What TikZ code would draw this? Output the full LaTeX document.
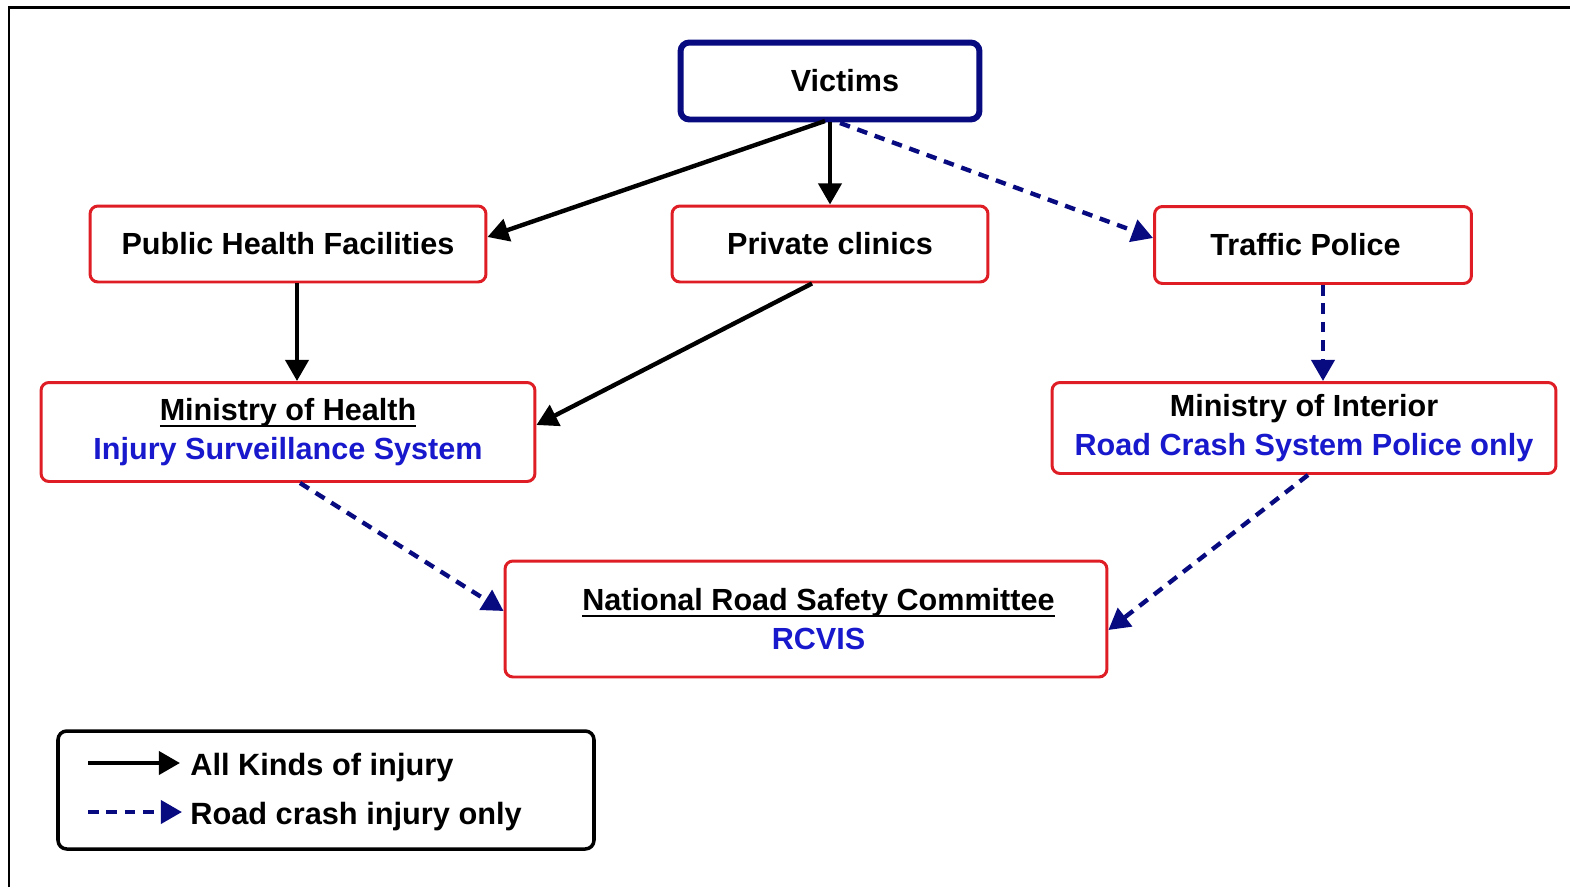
\documentclass[tikz,border=0pt]{standalone}
\usepackage{fontspec}
\setmainfont{Liberation Sans}
\usetikzlibrary{arrows.meta}
\definecolor{boxred}{RGB}{222,30,36}
\definecolor{navy}{RGB}{8,10,128}
\definecolor{txtblue}{RGB}{24,24,205}
\newcommand\thickul[1]{\setbox0=\hbox{#1}\rlap{\rule[-3.4pt]{\wd0}{1.2pt}}\box0}
\tikzset{
  unit/.style={draw=boxred, line width=1.7pt, rounded corners=4.5pt, fill=white,
    align=center, font=\fontsize{17.4}{21.8}\selectfont\bfseries, inner sep=0pt},
  victimbox/.style={unit, draw=navy, line width=3.4pt, rounded corners=5pt},
  legendbox/.style={draw=black, line width=2pt, rounded corners=5pt},
  allinj/.style={draw=black, line width=2.5pt, -{Triangle[length=12pt, width=13pt]}},
  roadinj/.style={draw=navy, line width=2.5pt, dash pattern=on 6pt off 4.5pt,
    -{Triangle[length=12pt, width=13pt]}},
  legendtext/.style={anchor=west, font=\fontsize{17.5}{20}\selectfont\bfseries, inner sep=0pt}
}
\begin{document}
\begin{tikzpicture}[x=0.02cm, y=-0.02cm]
\useasboundingbox (0,0) rectangle (1570,887);
% frame
\draw[line width=1.7pt] (9,887) -- (9,7) -- (1570,7);
% boxes
\node[victimbox, minimum width=5.98cm, minimum height=1.54cm] (victims) at (830,81) {\hspace*{0.6cm}Victims};
\node[unit, minimum width=7.92cm, minimum height=1.52cm] (phf) at (288,244) {Public Health Facilities};
\node[unit, minimum width=6.32cm, minimum height=1.52cm] (clinics) at (830,244) {Private clinics};
\node[unit, minimum width=6.34cm, minimum height=1.54cm] (police) at (1313,245) {Traffic Police\hspace*{0.3cm}};
\node[unit, minimum width=9.88cm, minimum height=1.98cm] (moh) at (288,432)
  {\thickul{Ministry of Health}\\ \textcolor{txtblue}{Injury Surveillance System}};
\node[unit, minimum width=10.08cm, minimum height=1.82cm] (moi) at (1304,428)
  {Ministry of Interior\\ \textcolor{txtblue}{Road Crash System Police only}};
\node[unit, minimum width=12.04cm, minimum height=2.32cm] (nrsc) at (806,619)
  {\hspace*{0.5cm}\thickul{National Road Safety Committee}\\ \hspace*{0.5cm}\textcolor{txtblue}{RCVIS}};
% connectors
\coordinate (vic1) at (825,121);
\coordinate (vic2) at (840,123);
\draw[allinj] (vic1) -- (phf.east |- 0,237);
\draw[allinj] (victims.south) -- (clinics.north);
\draw[roadinj] (vic2) -- (police.west |- 0,238);
\draw[allinj] (phf.south -| 297,0) -- (moh.north -| 297,0);
\draw[allinj] (clinics.south -| 812,0) -- (moh.east |- 0,425);
\draw[roadinj] (police.south -| 1323,0) -- (moi.north -| 1323,0);
\draw[roadinj] (moh.south -| 300,0) -- (nrsc.west |- 0,611);
\draw[roadinj] (moi.south -| 1308,0) -- (nrsc.east |- 0,630);
% legend
\draw[legendbox] (58,731) rectangle (594,849);
\coordinate (lga) at (88,763);
\coordinate (lgb) at (180,763);
\coordinate (lgc) at (88,812);
\coordinate (lgd) at (182,812);
\draw[allinj] (lga) -- (lgb);
\draw[roadinj] (lgc) -- (lgd);
\node[legendtext] (lgall) at (190,768) {All Kinds of injury};
\node[legendtext] (lgroad) at (190,817) {Road crash injury only};
\end{tikzpicture}
\end{document}
